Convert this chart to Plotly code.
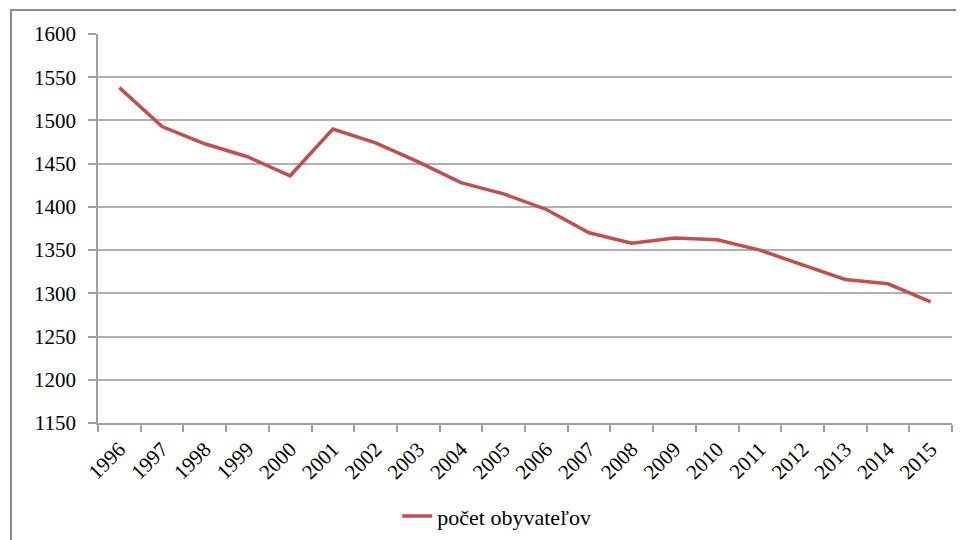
import plotly.graph_objects as go

years = [str(y) for y in range(1996, 2016)]
population = [1538, 1493, 1473, 1458, 1436, 1490, 1474, 1452, 1428, 1415,
              1397, 1370, 1358, 1364, 1362, 1350, 1333, 1316, 1311, 1290]
series_name = "počet obyvateľov"
y_ticks = list(range(1150, 1601, 50))

fig = go.Figure()
fig.add_trace(go.Scatter(
    x=years, y=population, mode="lines", name=series_name,
    line=dict(color="#C0504D", width=3.5),
))

font_family = "'Liberation Serif', 'Times New Roman', 'DejaVu Serif', serif"
fig.update_layout(
    width=964, height=540,
    margin=dict(l=90, r=20, t=26, b=125, autoexpand=False),
    paper_bgcolor="white", plot_bgcolor="white",
    font=dict(family=font_family, color="black", size=18),
    showlegend=True,
    legend=dict(orientation="h", xref="container", yref="container",
                x=0.507, y=0.059, xanchor="center", yanchor="middle",
                font=dict(size=22, family=font_family)),
    xaxis=dict(type="category", range=[-0.5, 19.5], tickangle=-45,
               tickson="boundaries", automargin=False,
               ticks="outside", ticklen=7, tickcolor="#A0A0A0", tickwidth=1.5,
               ticklabelstandoff=4,
               showline=True, linecolor="#A0A0A0", linewidth=1.5,
               showgrid=False, tickfont=dict(size=21, family=font_family)),
    yaxis=dict(range=[1150, 1600], tickvals=y_ticks, ticks="outside",
               automargin=False, ticklabelstandoff=8,
               ticklen=8, tickcolor="#A0A0A0", tickwidth=1.5,
               showline=True, linecolor="#A0A0A0", linewidth=1.5,
               showgrid=True, gridcolor="#B0B0B0", gridwidth=1.5,
               zeroline=False, tickfont=dict(size=21, family=font_family)),
    shapes=[dict(type="rect", xref="paper", yref="paper",
                 x0=-0.1019, x1=1.03, y0=-0.32, y1=1.0617,
                 line=dict(color="#8A8A8A", width=2), layer="below")],
)

fig.write_html("out.html")
